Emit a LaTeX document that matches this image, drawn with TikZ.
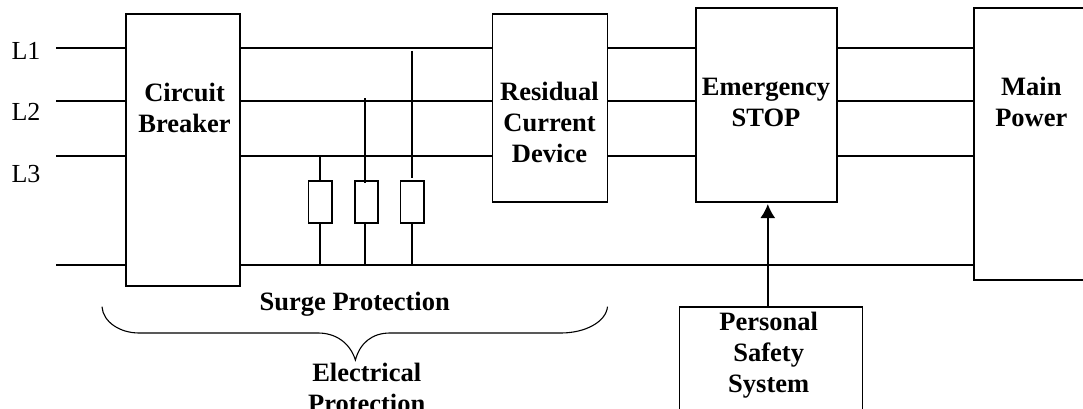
\documentclass[tikz,border=0pt]{standalone}
\usepackage{fontspec}
\setmainfont{Liberation Serif}
\usetikzlibrary{arrows.meta}
\tikzset{
  x=1pt,y=-1pt,
  wire/.style={line width=1.8pt,draw=black},
  blockbox/.style={draw=black,line width=1.8pt,fill=white,inner sep=0pt,outer sep=0pt,anchor=north west},
  resist/.style={draw=black,line width=1.8pt,fill=white,inner sep=0pt,outer sep=0pt,anchor=north west,minimum width=23.5pt,minimum height=41.5pt},
  title/.style={font=\fontsize{26.5}{31}\selectfont\bfseries,align=center,inner sep=0pt,anchor=base},
  phase/.style={font=\fontsize{26}{30}\selectfont,inner sep=0pt,anchor=base west},
}
\begin{document}
\begin{tikzpicture}
\useasboundingbox (0,0) rectangle (1083,409);
\clip (0,0) rectangle (1083,409);
% free ends of the feed lines
\coordinate (a1) at (56,48);
\coordinate (a2) at (56,101);
\coordinate (a3) at (56,156);
\coordinate (a4) at (56,265);
% blocks
\node[blockbox,minimum width=114.5pt,minimum height=272pt] (cb) at (125.7,14) {};
\node[blockbox,minimum width=115pt,minimum height=188pt] (rcd) at (492.4,14) {};
\node[blockbox,minimum width=141pt,minimum height=194pt] (es) at (696.2,8.3) {};
\node[blockbox,minimum width=140pt,minimum height=272pt] (mp) at (974.2,8.3) {};
\node[blockbox,minimum width=183pt,minimum height=120pt] (pss) at (679.5,306.7) {};
% surge resistors
\node[resist] (r1) at (308.5,181.3) {};
\node[resist] (r2) at (354.7,181.3) {};
\node[resist] (r3) at (400.5,181.3) {};
% tap ends
\coordinate (t2) at (365,98.3);
\coordinate (t2b) at (365,183);
\coordinate (t3) at (412,51);
\coordinate (t3b) at (412,177.7);
% phase and neutral lines
\foreach \c in {a1,a2,a3}{
  \draw[wire] (\c) -- (\c -| cb.west);
  \draw[wire] (\c -| cb.east) -- (\c -| rcd.west);
  \draw[wire] (\c -| rcd.east) -- (\c -| es.west);
  \draw[wire] (\c -| es.east) -- (\c -| mp.west);
}
\draw[wire] (a4) -- (a4 -| cb.west);
\draw[wire] (a4 -| cb.east) -- (a4 -| mp.west);
% taps
\draw[wire] (a3 -| r1.north) -- (r1.north);
\draw[wire] (r1.south) -- (a4 -| r1.south);
\draw[wire] (t2) -- (t2b);
\draw[wire] (t2 |- r2.south) -- (a4 -| t2);
\draw[wire] (t3) -- (t3b);
\draw[wire] (t3 |- r3.south) -- (a4 -| t3);
% safety arrow
\coordinate (tip) at (767.8,204);
\draw[wire,-{Latex[length=14pt,width=15pt]}] (pss.north -| tip) -- (tip);
% brace
\coordinate (bl) at (102,306.7);
\coordinate (br) at (607.5,306.7);
\coordinate (bt) at (355.4,360);
\draw[line width=1.1pt] (bl) .. controls (103,322) and (120,333) .. (139,333)
  -- (318,333) .. controls (336,333) and (350,343) .. (bt)
  .. controls (360,343) and (372,333) .. (390,333)
  -- (561,333) .. controls (585,333) and (606,322) .. (br);
% labels
\node[phase] (l1) at (11.4,60) {L1};
\node[phase] (l2) at (11.4,121) {L2};
\node[phase] (l3) at (11.4,182) {L3};
\node[title] (tcb) at (184.6,132) {Circuit\\Breaker};
\node[title] (trcd) at (549.5,162) {Residual\\Current\\Device};
\node[title] (tes) at (766,126) {Emergency\\STOP};
\node[title] (tmp) at (1031.3,126) {Main\\Power};
\node[title] (tpss) at (768.7,392) {Personal\\Safety\\System};
\node[title] (tsp) at (354.7,310) {Surge Protection};
\node[title] (tep) at (366.7,412) {Electrical\\Protection};
\end{tikzpicture}
\end{document}
